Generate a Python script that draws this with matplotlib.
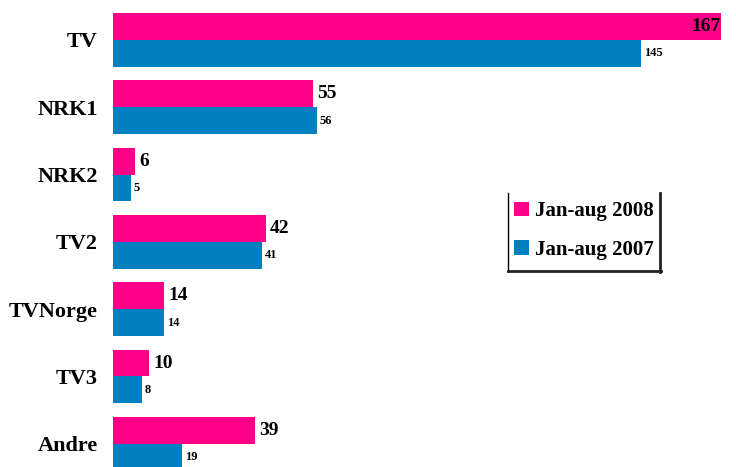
import matplotlib
matplotlib.use("Agg")
import matplotlib.pyplot as plt
from matplotlib.patches import Patch
from matplotlib.lines import Line2D
import numpy as np

categories = ["TV", "NRK1", "NRK2", "TV2", "TVNorge", "TV3", "Andre"]
values_2008 = [167, 55, 6, 42, 14, 10, 39]
values_2007 = [145, 56, 5, 41, 14, 8, 19]
series_names = ["Jan-aug 2008", "Jan-aug 2007"]

pink = "#FF0088"
blue = "#0080C0"

W, H = 736, 467
fig = plt.figure(figsize=(W / 100, H / 100), dpi=100)
ax = fig.add_axes([113 / W, 0, 1 - 113 / W, 1])

y = np.arange(len(categories))
bh = 0.4
ax.barh(y - bh / 2, values_2008, height=bh, color=pink, edgecolor="none")
ax.barh(y + bh / 2, values_2007, height=bh, color=blue, edgecolor="none")

xmax = 623 / 3.641
ax.set_xlim(0, xmax)
ax.set_ylim(6.345, -0.594)

ax.set_yticks(y)
ax.set_yticklabels(categories, fontfamily="Liberation Serif", fontweight="bold", fontsize=16)
ax.tick_params(axis="y", length=0, pad=11)
ax.set_xticks([])
for s in ax.spines.values():
    s.set_visible(False)

for yi, v in zip(y, values_2008):
    if v > xmax * 0.93:
        ax.annotate(str(v), (v, yi - bh / 2), xytext=(0, 0), textcoords="offset points",
                    va="center", ha="right", fontfamily="Liberation Serif",
                    fontweight="bold", fontsize=14)
    else:
        ax.annotate(str(v), (v, yi - bh / 2), xytext=(3, 0), textcoords="offset points",
                    va="center", ha="left", fontfamily="Liberation Serif",
                    fontweight="bold", fontsize=14)
for yi, v in zip(y, values_2007):
    ax.annotate(str(v), (v, yi + bh / 2), xytext=(2, 0), textcoords="offset points",
                va="center", ha="left", fontfamily="Liberation Serif",
                fontweight="bold", fontsize=9)

handles = [Patch(facecolor=pink, edgecolor="none"), Patch(facecolor=blue, edgecolor="none")]
leg = fig.legend(handles, series_names, loc="upper left",
                 bbox_to_anchor=(508 / W, 1 - 195 / H), frameon=False,
                 prop={"family": "Liberation Serif", "weight": "bold", "size": 15},
                 handlelength=0.7, handleheight=0.7, handletextpad=0.3,
                 labelspacing=0.9, borderpad=0.3, borderaxespad=0)

def fx(px):
    return px / W
def fy(py):
    return 1 - py / H
fig.add_artist(Line2D([fx(508), fx(508)], [fy(193), fy(271)], color="black", lw=1))
fig.add_artist(Line2D([fx(660), fx(660)], [fy(193), fy(272)], color="#222222", lw=2))
fig.add_artist(Line2D([fx(508), fx(661)], [fy(271), fy(271)], color="#222222", lw=2))

fig.savefig("out.png", dpi=100)
